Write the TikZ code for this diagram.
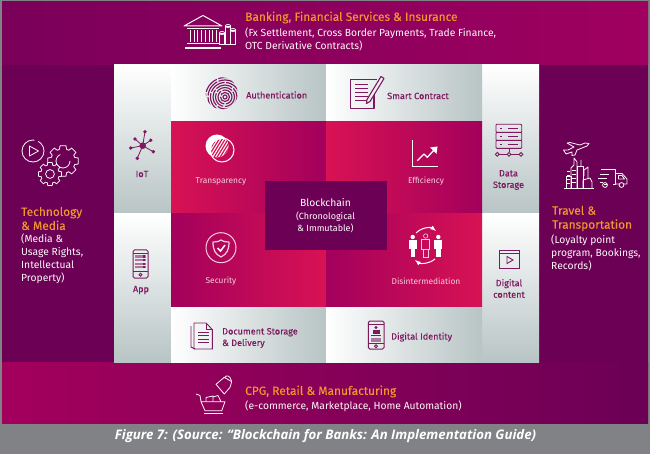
\documentclass[tikz,border=0pt]{standalone}
\usepackage{fontspec}
\setmainfont{Fira Sans}
\newfontfamily\medfont[FakeBold=0.1]{Fira Sans}
\newfontfamily\capfont{Open Sans}
\usepackage{xcolor}
\usetikzlibrary{positioning,calc}
\definecolor{Band}{RGB}{128,130,133}
\definecolor{PurpleA}{RGB}{107,0,85}
\definecolor{PurpleB}{RGB}{122,0,90}
\definecolor{Wine}{RGB}{160,0,95}
\definecolor{Crimson}{RGB}{216,18,84}
\definecolor{Berry}{RGB}{163,0,92}
\definecolor{Orange}{RGB}{240,150,45}
\definecolor{Ink}{RGB}{125,25,95}
\definecolor{Tile}{RGB}{184,196,197}
\definecolor{Soft}{RGB}{245,205,220}
\tikzset{
    headtext/.style={anchor=west,inner sep=0pt,align=left,text=Orange,font=\medfont\fontsize{11.9}{14}\selectfont},
    bodytext/.style={anchor=west,inner sep=0pt,align=left,text=white!90!pink,font=\fontsize{10.3}{13}\selectfont},
    inktext/.style={inner sep=0pt,align=center,text=Ink,font=\medfont\fontsize{9.1}{11.5}\selectfont},
    softtext/.style={inner sep=0pt,align=center,text=Soft,font=\fontsize{8.4}{11}\selectfont},
    whiteline/.style={draw=white!90!pink,line width=.8pt,line join=round},
    inkline/.style={draw=Ink,line width=.8pt,line join=round},
}
% gear: centre x, centre y, radius, style
\newcommand{\geardraw}[4]{
    \draw[#4,shift={(#1,#2)}] (-17:#3)
        \foreach \a in {0,45,...,315}{
            -- (\a-17:#3) -- (\a-11:1.28*#3) -- (\a+11:1.28*#3) -- (\a+17:#3)
        } -- cycle;
}
\begin{document}
\begin{tikzpicture}[x=1pt,y=-1pt]
    \useasboundingbox (0,0) rectangle (650,454);
    \fill[Band] (0,0) rectangle (650,454);

    % banners and side panels
    \shade[left color=PurpleB,right color=Wine] (2,2) rectangle (648,65);
    \shade[left color=Berry,middle color=PurpleB,right color=PurpleA] (2,362) rectangle (648,423);
    \fill[PurpleA] (2,65) rectangle (114,362);
    \fill[PurpleA] (539,65) rectangle (648,362);

    % grey tiles
    \shade[top color=white,bottom color=Tile] (114,65) rectangle (171,214);
    \shade[top color=white,bottom color=Tile] (114,214) rectangle (171,362);
    \shade[top color=white,bottom color=Tile] (482,65) rectangle (539,214);
    \shade[top color=white,bottom color=Tile] (482,214) rectangle (539,362);
    \shade[left color=white,right color=Tile] (171,65) rectangle (326,122);
    \shade[left color=white,right color=Tile] (326,65) rectangle (482,122);
    \shade[left color=white,right color=Tile] (171,306) rectangle (326,362);
    \shade[left color=white,right color=Tile] (326,306) rectangle (482,362);

    % red squares
    \shade[left color=Crimson,right color=Berry] (171,122) rectangle (326,214);
    \shade[left color=Crimson,right color=Berry] (326,122) rectangle (482,214);
    \shade[left color=Berry,right color=Crimson] (171,214) rectangle (326,306);
    \shade[left color=Berry,right color=Crimson] (326,214) rectangle (482,306);
    \fill[PurpleA] (264.5,181) rectangle (387,250);

    % texts
    \node[headtext] (bankhead) at (245,17.5) {Banking, Financial Services \& Insurance};
    \node[bodytext] (bankbody) at (245,39) {(Fx Settlement, Cross Border Payments, Trade Finance,\\OTC Derivative Contracts)};
    \node[headtext] (techhead) at (21,218.5) {Technology\\\& Media};
    \node[bodytext] (techbody) at (21,258.5) {(Media \&\\Usage Rights,\\Intellectual\\Property)};
    \node[headtext] (travelhead) at (552,218.5) {Travel \&\\Transportation};
    \node[bodytext] (travelbody) at (551,253) {(Loyalty point\\program, Bookings,\\Records)};
    \node[headtext] (retailhead) at (245,391.5) {CPG, Retail \& Manufacturing};
    \node[bodytext] (retailbody) at (245,406.5) {(e-commerce, Marketplace, Home Automation)};
    \node[inner sep=0pt,text=white] (caption) at (325.5,436) {\capfont\fontsize{13.2}{15}\selectfont\bfseries\itshape Figure 7: (Source: “Blockchain for Banks: An Implementation Guide)};

    \node[inktext,anchor=west] (authtext) at (246,95) {Authentication};
    \node[inktext,anchor=west] (smarttext) at (387,96) {Smart Contract};
    \node[inktext] (iottext) at (142,174) {IoT};
    \node[inktext] (datatext) at (508.5,180) {Data\\Storage};
    \node[inktext] (apptext) at (141,290) {App};
    \node[inktext] (contenttext) at (509,288.5) {Digital\\content};
    \node[inktext,anchor=west,align=left] (doctext) at (222,338) {Document Storage\\\& Delivery};
    \node[inktext,anchor=west] (identtext) at (391,337) {Digital Identity};
    \node[softtext] (transtext) at (221,181.5) {Transparency};
    \node[softtext] (efftext) at (426,181.5) {Efficiency};
    \node[softtext] (sectext) at (221,281.5) {Security};
    \node[softtext] (distext) at (426,281.5) {Disintermediation};
    \node[inner sep=0pt,align=center,text=white,font=\fontsize{9}{12}\selectfont] (chaintext) at (325.5,215.5) {{\fontsize{10.3}{12}\selectfont Blockchain}\\[1pt]{\fontsize{9}{12}\selectfont (Chronological}\\{\fontsize{9}{12}\selectfont \& Immutable)}};

    % bank icon
    \draw[whiteline,line width=1pt] (184,26) -- (203,15.5) -- (222,26) -- cycle;
    \draw[whiteline] (187,28.5) -- (219,28.5);
    \foreach \x in {190,197.5,205,212.5}{
        \draw[whiteline] (\x,30) -- (\x,42) (\x+4,30) -- (\x+4,42);
    }
    \draw[whiteline] (187,43.5) -- (219,43.5);
    \draw[whiteline,line width=1.2pt] (185,48) -- (221,48);
    \foreach \x/\y in {222/33,228/26,233/30}{
        \draw[whiteline] (\x-2.7,44) rectangle (\x+2.7,\y);
        \draw[whiteline] (\x,\y) ellipse[x radius=2.7,y radius=1.5];
    }

    % play and gears
    \draw[whiteline,dash pattern=on 58pt off 4pt,dash phase=5pt] (33,151) circle[radius=11];
    \draw[whiteline] (29.5,146) -- (38.5,151) -- (29.5,156) -- cycle;
    \geardraw{63}{161}{12.2}{whiteline}
    \draw[whiteline,dash pattern=on 30pt off 14pt] (63,161) circle[radius=7];
    \geardraw{50}{174}{9.2}{whiteline,fill=PurpleA}
    \draw[whiteline] (50,174) circle[radius=4.4];

    % fingerprint
    \begin{scope}
        \clip (221.7,93.3) circle[radius=16];
        \foreach \r/\o in {2/0,4.5/3,7/7,9.5/2,12/9,14.5/5,17/1,19.5/8,22/4,24.5/6,27/2}{
            \draw[Ink,line width=1.15pt,dash pattern=on 17pt off 1.6pt,dash phase=\o pt] (225,97) circle[radius=\r];
        }
    \end{scope}

    % overlapping discs
    \fill[white] (217,146) circle[radius=11.5];
    \begin{scope}
        \clip (217,146) circle[radius=11.5];
        \clip (222,150) circle[radius=11];
        \foreach \k in {-18,-15,...,15}{
            \draw[Crimson,line width=1.2pt] (219.5+\k,163) -- +(16,-26);
        }
    \end{scope}
    \draw[white,line width=1pt] (222,150) circle[radius=12];

    % network
    \foreach \x/\y in {145/131.7,150.7/140.3,153.3/151.7,137.3/158.3,130.7/148,135/139}{
        \draw[Ink,line width=.8pt] (142.7,145.7) -- (\x,\y);
        \fill[Ink] (\x,\y) circle[radius=1.9];
    }
    \fill[Ink] (142.7,145.7) circle[radius=3.3];

    % contract and pen
    \draw[Ink,line width=1.2pt,line join=round] (374,91) -- (374,108.3) -- (350.7,108.3) -- (350.7,79.3) -- (377,79.3);
    \foreach \y in {84.5,88.5,92.5,96.5,100.5}{
        \draw[Ink,line width=1.5pt] (355,\y) -- (368,\y);
    }
    \draw[Ink,line width=1.1pt,line join=round,fill=white!75!Tile] (381,76.5) -- (384,78.5) -- (370,101.5) -- (366.5,103.5) -- (367,99.5) -- cycle;

    % chart
    \draw[white,line width=1.1pt] (412.3,140) -- (412.3,166.7) -- (438,166.7);
    \draw[white,line width=1.3pt,line join=round] (417.3,160.7) -- (424,154) -- (427.3,157.3) -- (435,149);
    \fill[white] (437.5,146.5) -- (430,147.5) -- (436.5,154) -- cycle;

    % storage
    \foreach \y in {124.3,132.5,140.4}{
        \draw[Ink,line width=.9pt,rounded corners=.8pt] (496,\y) rectangle (521.7,\y+8);
        \draw[Ink,line width=.9pt] (500,\y+4) -- (502,\y+4) (508,\y+4) -- (518,\y+4);
    }
    \draw[Ink,line width=.9pt] (509,148.4) -- (509,151.7) (499.3,154.3) -- (507,154.3) (511,154.3) -- (519,154.3);
    \foreach \x in {497.3,509,521}{
        \draw[Ink,line width=.9pt] (\x,154.3) circle[radius=1.9];
    }

    % plane, city and truck
    \draw[whiteline] (563.5,150) -- (568,150) -- (574,147) -- (567,143) -- (570,142.5) -- (580,145) -- (585,143) -- (589,143.5) -- (587,146) -- (577,150) -- (575,155) -- (572,155.5) -- (572,152) -- (566,154) -- cycle;
    \draw[whiteline] (564,188) -- (594,188);
    \draw[whiteline] (566,188) -- (566,176) -- (571,176) -- (571,188);
    \draw[whiteline] (571,188) -- (571,168) -- (574,165) -- (574,158) -- (577,162) -- (577,188);
    \draw[whiteline] (577,188) -- (577,166) -- (583,166) -- (583,188);
    \draw[whiteline] (581,166) -- (581,160) (583,188) -- (583,180) -- (590,178) -- (592,182) -- (592,188);
    \draw[whiteline] (584,176) -- (584,170) -- (588,167) -- (588,178);
    \foreach \y in {170,174,178,182}{
        \draw[whiteline,line width=.6pt] (572,\y) -- (576,\y) (567,\y+1) -- (570,\y+1);
    }
    \draw[whiteline] (601,169) -- (615.5,169) -- (615.5,184) -- (613,184) (607,184) -- (604,184);
    \draw[whiteline] (615.5,173.5) -- (622,173.5) -- (627,179) -- (627,184) -- (624,184) (619,184) -- (615.5,184);
    \draw[whiteline] (605,185) circle[radius=2.4] (621.5,185) circle[radius=2.4];
    \draw[whiteline] (618.5,175.5) -- (622,175.5) -- (624.5,179) -- (618.5,179) -- cycle;
    \draw[whiteline] (600,174) -- (609,174) (598,178) -- (607,178) (600,182) -- (603,182);

    % shield
    \draw[Soft,line width=1pt] (221,247.7) circle[radius=15];
    \draw[Soft,line width=1.2pt,line join=round] (221,240) .. controls (224,242) and (227,242) .. (229,242) .. controls (229,250) and (227,254) .. (221,257) .. controls (215,254) and (213,250) .. (213,242) .. controls (215,242) and (218,242) .. (221,240) -- cycle;
    \draw[white,line width=1.5pt] (217.5,248) -- (220.5,251) -- (225,245);

    % people
    \foreach \x in {412.7,438.3}{
        \fill[white] (\x,237) circle[radius=2.2];
        \fill[white] (\x-4,240) rectangle (\x+4,249);
        \fill[white] (\x-2.2,249) rectangle (\x+2.2,257);
    }
    \draw[Soft,line width=.6pt] (425.7,236) circle[radius=2.2];
    \draw[Soft,line width=.6pt] (421.7,239.5) rectangle (429.7,249) (423.5,249) rectangle (428,257);
    \draw[white,line width=1pt,-latex] (416,233) .. controls (422,227) and (431,227) .. (436,231);
    \draw[white,line width=1pt,-latex] (435,259) .. controls (429,264) and (420,264) .. (415,260);

    % phone with app grid
    \draw[Ink,line width=1pt,rounded corners=1.5pt] (133,250) rectangle (148,278);
    \draw[Ink,line width=.8pt] (133,253) -- (148,253) (133,271.5) -- (148,271.5);
    \draw[Ink,line width=.8pt] (140.5,274.7) circle[radius=1.5];
    \foreach \y in {255.5,259,262.5,266}{
        \fill[Ink!60!white] (135,\y) rectangle (146,\y+2.2);
        \fill[Ink] (143,\y) rectangle (145,\y+2.2);
    }

    % document pages
    \draw[Ink,line width=.9pt,line join=round] (191,326) -- (191,347) -- (195,349);
    \draw[Ink,line width=.9pt,line join=round] (194,323) -- (206,323) -- (212.3,329.5) -- (212.3,349) -- (194,349) -- cycle;
    \draw[Ink,line width=.9pt,line join=round] (206,323) -- (206,329.5) -- (212.3,329.5);
    \foreach \y in {332,335.5,339,342.5}{
        \draw[Ink,line width=.9pt] (198,\y) -- (209,\y);
    }

    % video window
    \draw[Ink,line width=1pt] (499.3,250.7) rectangle (519,268.3);
    \draw[Ink,line width=1pt] (499.3,254) -- (519,254);
    \draw[Ink,line width=.9pt] (507,256.5) -- (513,260) -- (507,263.5) -- cycle;

    % identity phone
    \draw[Ink,line width=1pt,rounded corners=1.5pt] (368.3,321) rectangle (384,349);
    \draw[Ink,line width=.8pt] (368.3,324) -- (384,324) (368.3,343.5) -- (384,343.5);
    \draw[Ink,line width=.8pt] (376,346.2) circle[radius=1.5];
    \fill[Ink] (376,327.5) circle[radius=1.7];
    \fill[Ink] (372.5,333.5) rectangle (379.5,330.2);
    \fill[Ink] (371,335) rectangle (381,336.2);
    \fill[Ink!60!white] (371,338) rectangle (381,341.5);

    % tag and cart
    \draw[whiteline] (216,384.3) -- (224.3,377.3) -- (231.7,381.7) -- (230,387.3) -- (224.3,394) -- cycle;
    \draw[whiteline] (224.5,378) .. controls (226,374.5) and (230,375) .. (231.5,381);
    \draw[whiteline] (196,394) -- (200,395.5) -- (201,401.7) -- (225,401.7) -- (221.7,410.7) -- (205,410.7) -- (201,401.7);
    \draw[whiteline] (204,413.3) -- (222.5,413.3);
    \draw[whiteline] (206,401.7) -- (206,397.5) -- (213,396) -- (213,401.7) (213,397) -- (218,395.5) -- (221,401.7);
\end{tikzpicture}
\end{document}
